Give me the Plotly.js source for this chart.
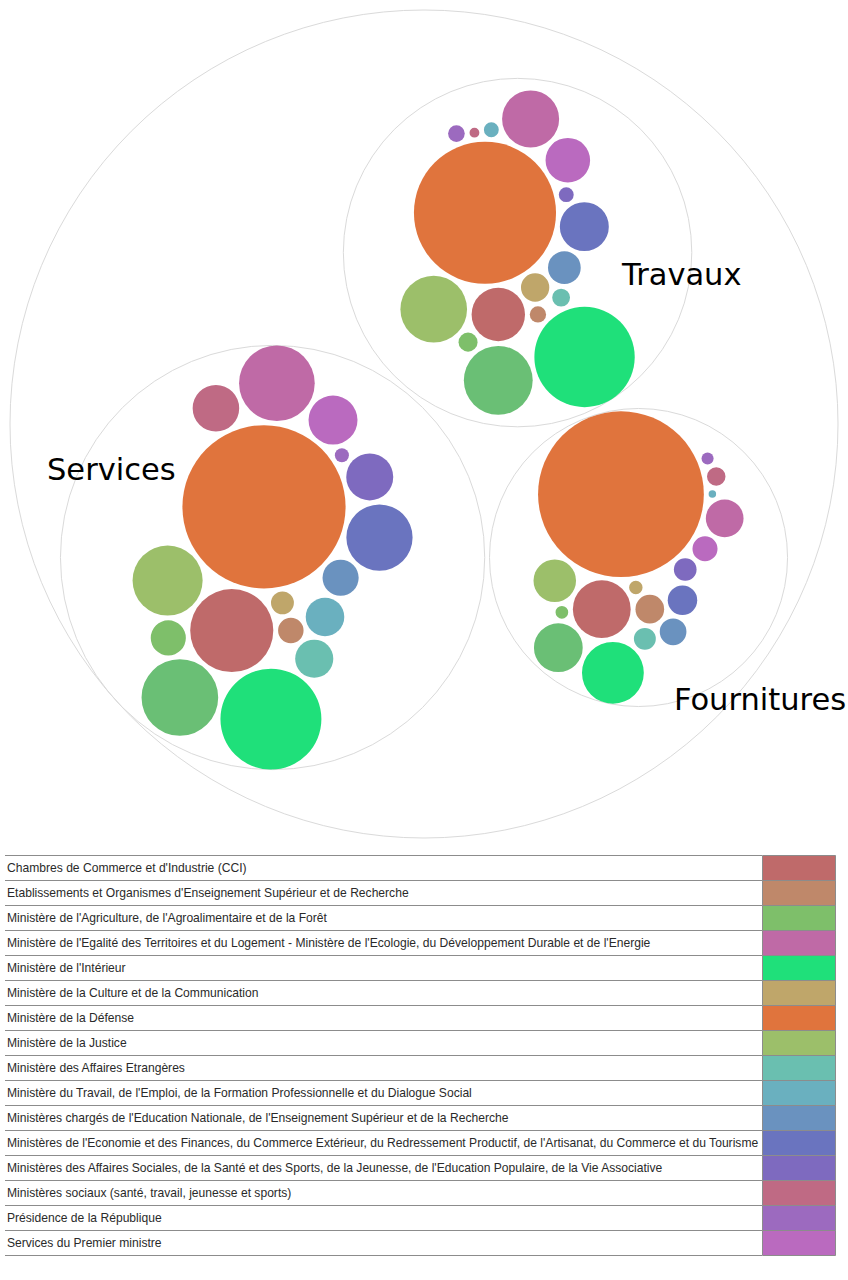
<!DOCTYPE html>
<html>
<head>
<meta charset="utf-8">
<script src="https://cdn.plot.ly/plotly-3.0.1.min.js"></script>
<style>
html,body{margin:0;padding:0;background:#fff;}
#chart{width:848px;height:1280px;}
</style>
</head>
<body>
<div id="chart"></div>
<script>
// ---------------- DATA ----------------
const categoryCodes = ["CCI","ESR","CULT","DEF","JUS","AGRI","AUT","INT","MAE","TRAV","EDU","ECO","ASOC","PR","PM","EGAL","MSOC"];
const categoryNames = [
  "Chambres de Commerce et d'Industrie (CCI)",
  "Etablissements et Organismes d'Enseignement Supérieur et de Recherche",
  "Ministère de la Culture et de la Communication",
  "Ministère de la Défense",
  "Ministère de la Justice",
  "Ministère de l'Agriculture, de l'Agroalimentaire et de la Forêt",
  "Autres",
  "Ministère de l'Intérieur",
  "Ministère des Affaires Etrangères",
  "Ministère du Travail, de l'Emploi, de la Formation Professionnelle et du Dialogue Social",
  "Ministères chargés de l'Education Nationale, de l'Enseignement Supérieur et de la Recherche",
  "Ministères de l'Economie et des Finances, du Commerce Extérieur, du Redressement Productif, de l'Artisanat, du Commerce et du Tourisme",
  "Ministères des Affaires Sociales, de la Santé et des Sports, de la Jeunesse, de l'Education Populaire, de la Vie Associative",
  "Présidence de la République",
  "Services du Premier ministre",
  "Ministère de l'Egalité des Territoires et du Logement - Ministère de l'Ecologie, du Développement Durable et de l'Energie",
  "Ministères sociaux (santé, travail, jeunesse et sports)"
];
const categoryColors = ["#bf6a6a","#bf886a","#bfa66a","#e0743d","#9cbf6a","#7ebf6a","#6abf75","#1fe07a","#6abfb0","#6ab0bf","#6a92bf","#6a74bf","#7e6abf","#9c6abf","#ba6abf","#bf6aa6","#bf6a84"];

// legend (table) order
const legendCategories = [
  "Chambres de Commerce et d'Industrie (CCI)",
  "Etablissements et Organismes d'Enseignement Supérieur et de Recherche",
  "Ministère de l'Agriculture, de l'Agroalimentaire et de la Forêt",
  "Ministère de l'Egalité des Territoires et du Logement - Ministère de l'Ecologie, du Développement Durable et de l'Energie",
  "Ministère de l'Intérieur",
  "Ministère de la Culture et de la Communication",
  "Ministère de la Défense",
  "Ministère de la Justice",
  "Ministère des Affaires Etrangères",
  "Ministère du Travail, de l'Emploi, de la Formation Professionnelle et du Dialogue Social",
  "Ministères chargés de l'Education Nationale, de l'Enseignement Supérieur et de la Recherche",
  "Ministères de l'Economie et des Finances, du Commerce Extérieur, du Redressement Productif, de l'Artisanat, du Commerce et du Tourisme",
  "Ministères des Affaires Sociales, de la Santé et des Sports, de la Jeunesse, de l'Education Populaire, de la Vie Associative",
  "Ministères sociaux (santé, travail, jeunesse et sports)",
  "Présidence de la République",
  "Services du Premier ministre"
];

const groupNames = ["Services","Fournitures","Travaux"];

const servicesCategories = ["CCI","ESR","CULT","DEF","JUS","AGRI","AUT","INT","MAE","TRAV","EDU","ECO","ASOC","PR","PM","EGAL","MSOC"];
const servicesValues     = [1714,161,130,6610,1218,306,1459,2530,361,369,324,1089,548,49,595,1421,538];

const fournituresCategories = ["CCI","ESR","CULT","DEF","JUS","AGRI","AUT","INT","MAE","EDU","ECO","ASOC","PM","EGAL","TRAV","MSOC","PR"];
const fournituresValues     = [829,204,45,6823,449,40,590,949,119,177,216,128,156,353,14,85,36];

const travauxCategories = ["CCI","ESR","CULT","DEF","JUS","AGRI","AUT","INT","MAE","EDU","ECO","ASOC","PM","EGAL","TRAV","MSOC","PR"];
const travauxValues     = [708,66,199,5013,1102,90,1176,2500,79,266,595,55,493,807,55,24,69];

// ---------------- PACK LAYOUT (front-chain circle packing) ----------------
function visitAfter(node, cb){
  (node.children||[]).forEach(ch=>visitAfter(ch, cb));
  cb(node);
}
function place(a,b,c){
  let db=a.r+c.r, dx=b.x-a.x, dy=b.y-a.y;
  if(db && (dx||dy)){
    let da=b.r+c.r, dc=dx*dx+dy*dy;
    da*=da; db*=db;
    const x=.5+(db-da)/(2*dc);
    const y=Math.sqrt(Math.max(0,2*da*(db+dc)-(db-=dc)*db-da*da))/(2*dc);
    c.x=a.x+x*dx+y*dy;
    c.y=a.y+x*dy-y*dx;
  } else { c.x=a.x+db; c.y=a.y; }
}
function intersects(a,b){ const dx=b.x-a.x, dy=b.y-a.y, dr=a.r+b.r; return .999*dr*dr>dx*dx+dy*dy; }
function insert(a,b){ const c=a._n; a._n=b; b._p=a; b._n=c; c._p=b; }
function splice(a,b){ a._n=b; b._p=a; }
function packSiblings(node){
  const nodes=node.children; if(!nodes||!nodes.length) return;
  const n=nodes.length;
  let xMin=Infinity,xMax=-Infinity,yMin=Infinity,yMax=-Infinity,a,b,c,i,j,k;
  function bound(d){ xMin=Math.min(d.x-d.r,xMin); xMax=Math.max(d.x+d.r,xMax); yMin=Math.min(d.y-d.r,yMin); yMax=Math.max(d.y+d.r,yMax); }
  nodes.forEach(d=>{ d._n=d._p=d; });
  a=nodes[0]; a.x=-a.r; a.y=0; bound(a);
  if(n>1){
    b=nodes[1]; b.x=b.r; b.y=0; bound(b);
    if(n>2){
      c=nodes[2]; place(a,b,c); bound(c);
      insert(a,c); a._p=c; insert(c,b); b=a._n;
      for(i=3;i<n;i++){
        place(a,b,c=nodes[i]);
        let isect=0,s1=1,s2=1;
        for(j=b._n;j!==b;j=j._n,s1++){ if(intersects(j,c)){ isect=1; break; } }
        if(isect==1){ for(k=a._p;k!==j._p;k=k._p,s2++){ if(intersects(k,c)) break; } }
        if(isect){
          if(s1<s2||(s1==s2&&b.r<a.r)) splice(a,b=j); else splice(a=k,b);
          i--;
        } else { insert(a,c); b=c; bound(c); }
      }
    }
  }
  const cx=(xMin+xMax)/2, cy=(yMin+yMax)/2; let cr=0;
  nodes.forEach(d=>{ d.x-=cx; d.y-=cy; cr=Math.max(cr,d.r+Math.sqrt(d.x*d.x+d.y*d.y)); delete d._n; delete d._p; });
  node.r=cr;
}
function transform(node,x,y,k){
  node.x = x += k*node.x;
  node.y = y += k*node.y;
  node.r *= k;
  (node.children||[]).forEach(ch=>transform(ch,x,y,k));
}

const groupData = {
  "Services":[servicesCategories,servicesValues],
  "Fournitures":[fournituresCategories,fournituresValues],
  "Travaux":[travauxCategories,travauxValues]
};
const root={name:"root",x:0,y:0,children:groupNames.map(g=>{
  const [cats,vals]=groupData[g];
  return {name:g,x:0,y:0,children:cats.map((c,i)=>({code:c,value:vals[i],x:0,y:0}))};
})};
visitAfter(root,d=>{ if(d.children) d.value=d.children.reduce((s,c)=>s+c.value,0); });

const PACK_W=828, PACK_H=828, PACK_PAD=5, OFFSET=10;
visitAfter(root,d=>{ d.r=Math.sqrt(d.value); });
visitAfter(root,packSiblings);
const dr=PACK_PAD*Math.max(2*root.r/PACK_W,2*root.r/PACK_H)/2;
visitAfter(root,d=>{ d.r+=dr; });
visitAfter(root,packSiblings);
visitAfter(root,d=>{ d.r-=dr; });
transform(root,PACK_W/2+OFFSET,PACK_H/2+OFFSET,1/Math.max(2*root.r/PACK_W,2*root.r/PACK_H));

// ---------------- FIGURE ----------------
const shapes=[], annotations=[];
const outline="#dadada";
function circleShape(n,fill,line){
  return {type:"circle",xref:"x",yref:"y",x0:n.x-n.r,x1:n.x+n.r,y0:n.y-n.r,y1:n.y+n.r,
    fillcolor:fill,line:line,layer:"above"};
}
shapes.push(circleShape(root,"rgba(0,0,0,0)",{color:outline,width:1}));
root.children.forEach(g=>shapes.push(circleShape(g,"rgba(0,0,0,0)",{color:outline,width:1})));
const hx=[],hy=[],ht=[];
root.children.forEach(g=>g.children.forEach(l=>{
  const idx=categoryCodes.indexOf(l.code);
  shapes.push(circleShape(l,categoryColors[idx],{width:0}));
  hx.push(l.x); hy.push(l.y); ht.push(g.name+"<br>"+categoryNames[idx]+": "+l.value);
}));

// group labels
const labelPos={"Travaux":[618.5,274],"Services":[44.5,469.5],"Fournitures":[671.5,699.5]};
root.children.forEach(g=>{
  annotations.push({x:labelPos[g.name][0],y:labelPos[g.name][1],xref:"x",yref:"y",text:g.name,showarrow:false,
    xanchor:"left",yanchor:"middle",font:{family:"DejaVu Sans",size:30.5,color:"#000"}});
});

// legend table
const TABLE_TOP=855, ROW_H=25, TEXT_LEFT=5, COLOR_LEFT=762, TABLE_RIGHT=836;
const gridColor="#8c8c8c";
legendCategories.forEach((name,i)=>{
  const idx=categoryNames.indexOf(name);
  const y0=TABLE_TOP+ROW_H*i+0.5, y1=y0+ROW_H;
  shapes.push({type:"rect",xref:"x",yref:"y",x0:COLOR_LEFT+0.5,x1:TABLE_RIGHT-0.5,y0:y0,y1:y1,
    fillcolor:categoryColors[idx],line:{color:gridColor,width:1},layer:"above"});
  annotations.push({x:TEXT_LEFT,y:(y0+y1)/2,xref:"x",yref:"y",text:name,showarrow:false,
    xanchor:"left",yanchor:"middle",font:{family:"Liberation Sans, Arial, sans-serif",size:12.1,color:"#2a2a2a"}});
});
for(let i=0;i<=legendCategories.length;i++){
  const y=TABLE_TOP+ROW_H*i+0.5;
  shapes.push({type:"line",xref:"x",yref:"y",x0:TEXT_LEFT,x1:COLOR_LEFT,y0:y,y1:y,line:{color:gridColor,width:1},layer:"above"});
}

const trace={type:"scatter",mode:"markers",x:hx,y:hy,text:ht,hoverinfo:"text",
  marker:{size:6,opacity:0},showlegend:false};

const layout={
  width:848,height:1280,margin:{l:0,r:0,t:0,b:0},
  paper_bgcolor:"#fff",plot_bgcolor:"#fff",
  xaxis:{range:[0,848],visible:false,fixedrange:true},
  yaxis:{range:[1280,0],visible:false,fixedrange:true},
  shapes:shapes,annotations:annotations,showlegend:false,hovermode:"closest"
};
Plotly.newPlot("chart",[trace],layout,{displayModeBar:false,responsive:false});
</script>
</body>
</html>
